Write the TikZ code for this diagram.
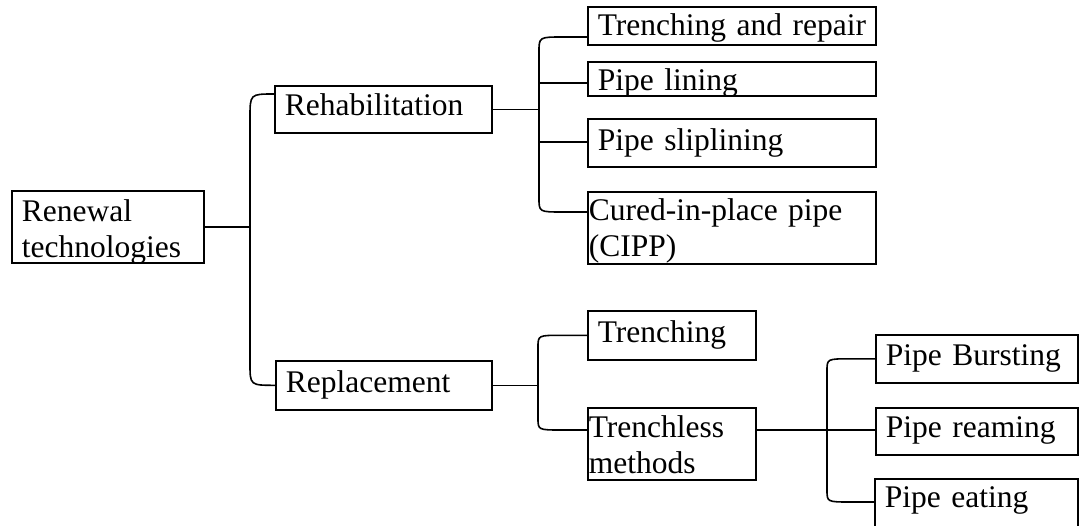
\documentclass[tikz,border=0pt]{standalone}
\usepackage{fontspec}
\setmainfont{Liberation Serif}
\usetikzlibrary{positioning, calc}

\begin{document}
\begin{tikzpicture}[
  x=1pt, y=-1pt,
  box/.style={
    rectangle, draw, line width=1.6pt,
    anchor=north west, inner ysep=0pt, inner xsep=10pt,
    align=left,
    font=\fontsize{31.5}{36}\selectfont
  },
  flush/.style={box, inner xsep=1pt}, % two-line boxes: text starts at the frame
  link/.style={line width=1.6pt}
]
\useasboundingbox (0,0) rectangle (1079,525);
\clip (0,0) rectangle (1079,525);

% boxes
\node [box, text width=172pt, text height=31pt, text depth=41pt] (root) at (11,190) {Renewal\\technologies};
\node [box, text width=197pt, text height=30pt, text depth=17pt] (rehab) at (274,85) {Rehabilitation};
\node [box, text width=196pt, text height=32pt, text depth=17pt] (repl) at (275,360) {Replacement};

\node [box, text width=268pt, text height=29pt, text depth=9pt] (repair) at (587,6) {\mbox{Trenching and repair}};
\node [box, text width=268pt, text height=29pt, text depth=5pt] (lining) at (587,61) {Pipe lining};
\node [box, text width=268pt, text height=32pt, text depth=16pt] (slip) at (587,118) {Pipe sliplining};
\node [flush, text width=286pt, text height=29pt, text depth=43pt] (cipp) at (587,191) {Cured-in-place pipe\\(CIPP)};

\node [box, text width=148pt, text height=32pt, text depth=17pt] (trench) at (587,310) {Trenching};
\node [flush, text width=166pt, text height=30pt, text depth=42pt] (trenchless) at (587,407) {Trenchless\\methods};

\node [box, text width=182pt, text height=31pt, text depth=17pt] (burst) at (875,334) {Pipe Bursting};
\node [box, text width=182pt, text height=30pt, text depth=17pt] (ream) at (875,407) {Pipe reaming};
\node [box, text width=183pt, text height=29pt, text depth=31pt] (eat) at (874,478) {Pipe eating};

% the lining box cuts off its descenders
\fill[white] ($(lining.south west)+(1,1)$) rectangle ($(lining.south east)+(-1,12)$);

% trunks
\coordinate (j1) at (250,0);
\coordinate (j2) at (539,0);
\coordinate (j3) at (538,0);
\coordinate (j4) at (827,0);

\coordinate (a1) at ($(rehab.north west)+(0,9)$);
\coordinate (a2) at ($(repair.north west)+(0,31)$);
\coordinate (b2) at ($(cipp.north west)+(0,21)$);
\coordinate (b3) at ($(trenchless.north west)+(0,23)$);
\coordinate (b4) at ($(eat.north west)+(0,24)$);

% root -> rehabilitation, replacement
\draw[link] (root.east) -- (root.east -| j1);
\draw[link] (a1) .. controls (a1 -| j1) .. ($(a1 -| j1)+(0,24)$)
  -- ($(repl.west -| j1)+(0,-22)$) .. controls (repl.west -| j1) .. (repl.west);

% rehabilitation -> methods
\draw[link] (rehab.east) -- (rehab.east -| j2);
\draw[link] (a2) -- ($(a2 -| j2)+(24,0)$) .. controls (a2 -| j2) .. ($(a2 -| j2)+(0,15)$)
  -- ($(b2 -| j2)+(0,-14)$) .. controls (b2 -| j2) .. ($(b2 -| j2)+(24,0)$) -- (b2);
\draw[link] ($(lining.north west)+(0,22)$) -- ($(lining.north west)+(-48,22)$);
\draw[link] ($(slip.north west)+(0,24)$) -- ($(slip.north west)+(-48,24)$);

% replacement -> trenching, trenchless
\draw[link] (repl.east) -- (repl.east -| j3);
\draw[link] (trench.west) -- ($(trench.west -| j3)+(24,0)$) .. controls (trench.west -| j3) .. ($(trench.west -| j3)+(0,12)$)
  -- ($(b3 -| j3)+(0,-12)$) .. controls (b3 -| j3) .. ($(b3 -| j3)+(24,0)$) -- (b3);

% trenchless -> bursting, reaming, eating
\draw[link] (b3 -| trenchless.east) -- (b3 -| ream.west);
\draw[link] (burst.west) -- ($(burst.west -| j4)+(24,0)$) .. controls (burst.west -| j4) .. ($(burst.west -| j4)+(0,12)$)
  -- ($(b4 -| j4)+(0,-12)$) .. controls (b4 -| j4) .. ($(b4 -| j4)+(24,0)$) -- (b4);
\end{tikzpicture}
\end{document}
